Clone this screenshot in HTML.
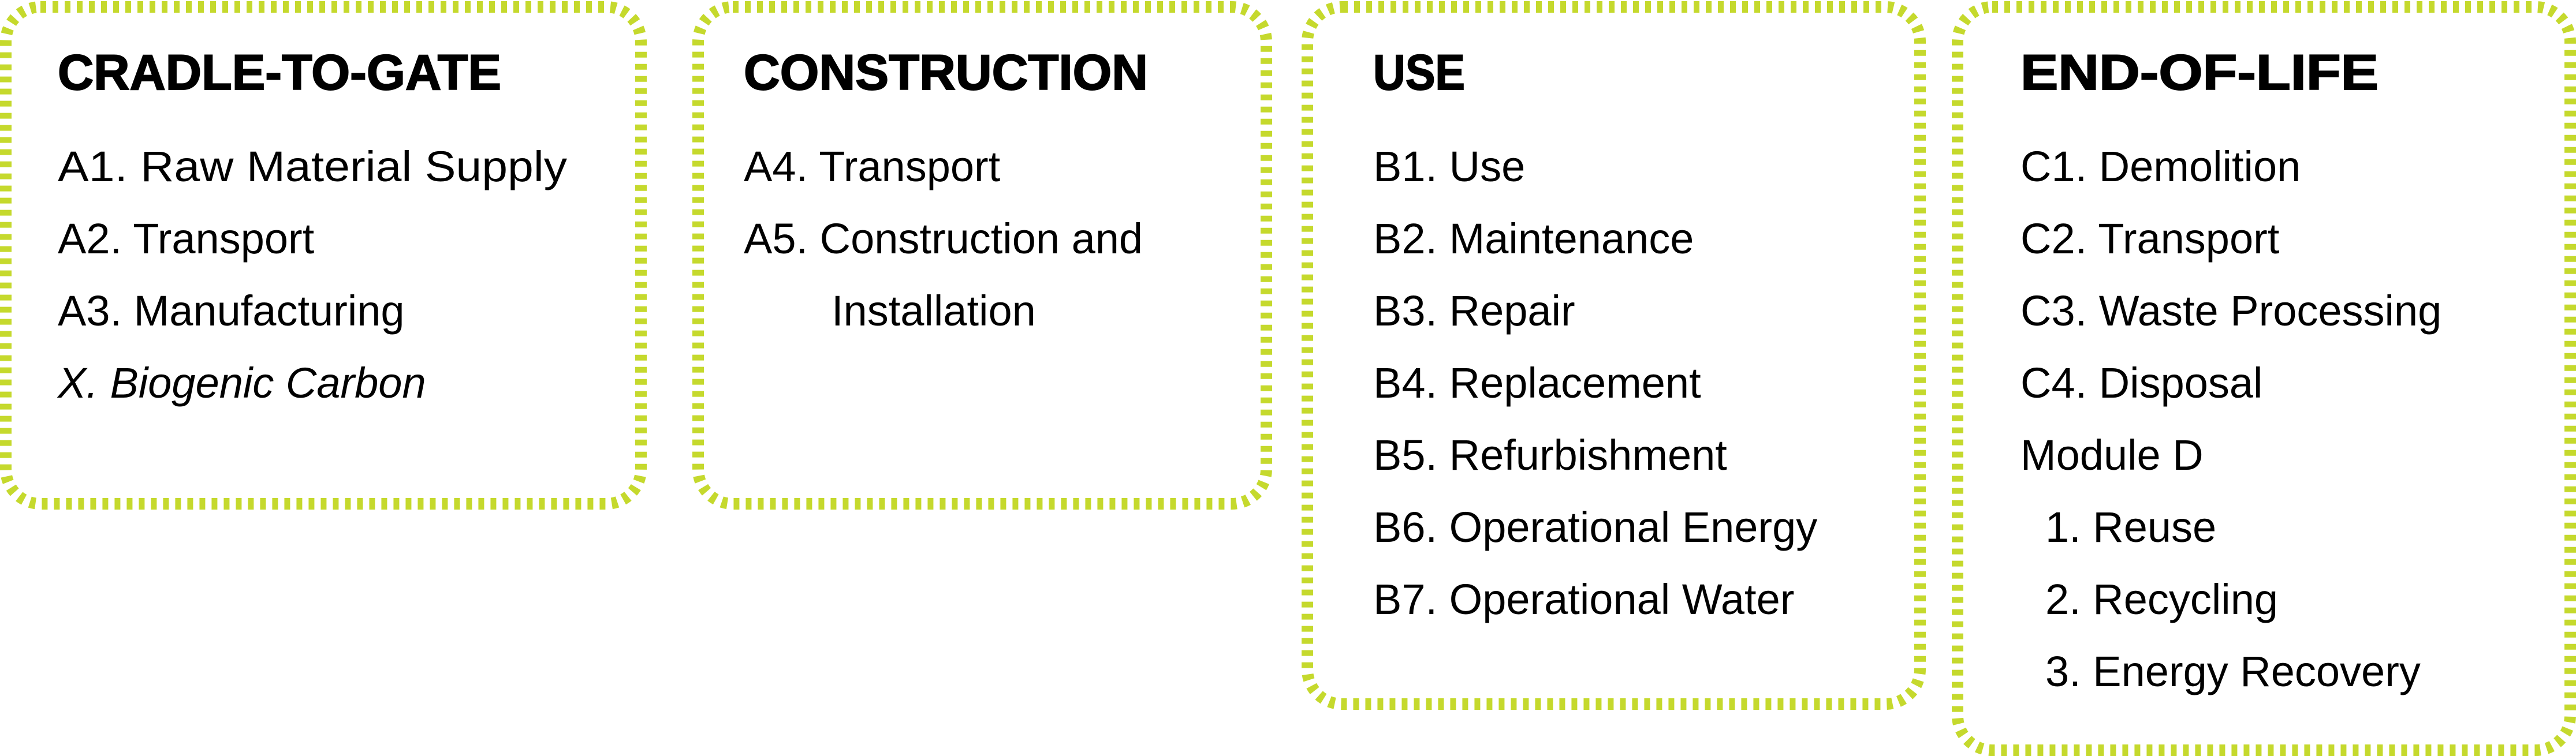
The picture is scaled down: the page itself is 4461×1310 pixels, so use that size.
<!DOCTYPE html>
<html><head><meta charset="utf-8"><style>
html,body{margin:0;padding:0;background:#fff;}
svg{display:block}
text{font-family:"Liberation Sans",sans-serif;fill:#000}
.h{font-weight:bold;font-size:86px;stroke:#000;stroke-width:2}
.t{font-size:74px}
</style></head><body>
<svg width="4461" height="1310" viewBox="0 0 4461 1310" xmlns="http://www.w3.org/2000/svg">
<g fill="none" stroke="#c5d92d" stroke-width="20" stroke-dasharray="10 11">
<rect x="10" y="12" width="1100" height="861" rx="60"/>
<rect x="1209" y="12" width="984" height="861" rx="60"/>
<rect x="2264" y="12" width="1061" height="1208" rx="60"/>
<rect x="3390" y="12" width="1061" height="1288" rx="60"/>
</g>
<g transform="translate(0,-5)">
<text class="h" x="100" y="160" textLength="768" lengthAdjust="spacingAndGlyphs">CRADLE-TO-GATE</text>
<text class="t" x="100" y="319" textLength="882" lengthAdjust="spacingAndGlyphs">A1. Raw Material Supply</text>
<text class="t" x="100" y="444">A2. Transport</text>
<text class="t" x="100" y="569">A3. Manufacturing</text>
<text class="t" x="100" y="694" font-style="italic">X. Biogenic Carbon</text>

<text class="h" x="1288" y="160" textLength="700" lengthAdjust="spacingAndGlyphs">CONSTRUCTION</text>
<text class="t" x="1288" y="319">A4. Transport</text>
<text class="t" x="1288" y="444">A5. Construction and</text>
<text class="t" x="1440" y="569">Installation</text>

<text class="h" x="2378" y="160" textLength="159" lengthAdjust="spacingAndGlyphs">USE</text>
<text class="t" x="2378" y="319">B1. Use</text>
<text class="t" x="2378" y="444">B2. Maintenance</text>
<text class="t" x="2378" y="569">B3. Repair</text>
<text class="t" x="2378" y="694">B4. Replacement</text>
<text class="t" x="2378" y="819">B5. Refurbishment</text>
<text class="t" x="2378" y="944">B6. Operational Energy</text>
<text class="t" x="2378" y="1069">B7. Operational Water</text>

<text class="h" x="3499" y="160" textLength="620" lengthAdjust="spacingAndGlyphs">END-OF-LIFE</text>
<text class="t" x="3499" y="319">C1. Demolition</text>
<text class="t" x="3499" y="444">C2. Transport</text>
<text class="t" x="3499" y="569">C3. Waste Processing</text>
<text class="t" x="3499" y="694">C4. Disposal</text>
<text class="t" x="3499" y="819">Module D</text>
<text class="t" x="3542" y="944">1. Reuse</text>
<text class="t" x="3542" y="1069">2. Recycling</text>
<text class="t" x="3542" y="1194">3. Energy Recovery</text>
</g>
</svg>
</body></html>
